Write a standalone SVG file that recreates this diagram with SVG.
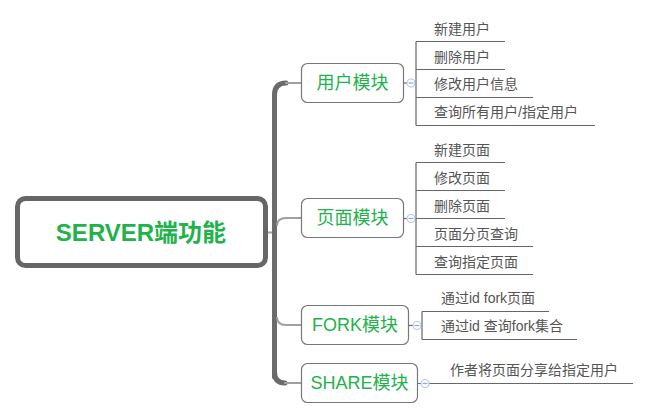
<svg xmlns="http://www.w3.org/2000/svg" width="650" height="420" viewBox="0 0 650 420">
<style>
.trunk{fill:none;stroke:#6b6b6b;stroke-width:5;stroke-linecap:round}
.br{fill:none;stroke:#a0a0a0;stroke-width:2}
.ln{fill:none;stroke:#666;stroke-width:1.2}
.box{fill:#fff;stroke:#777;stroke-width:1.2}
.root{fill:#fff;stroke:#666;stroke-width:5}
.mt{font-family:"Liberation Sans","Noto Sans CJK SC",sans-serif;font-size:18px;fill:#22b24c;text-anchor:middle;dominant-baseline:central}
.rt{font-family:"Liberation Sans","Noto Sans CJK SC",sans-serif;font-size:24px;font-weight:bold;fill:#22b24c;text-anchor:middle;dominant-baseline:central}
.ct{font-family:"Liberation Sans","Noto Sans CJK SC",sans-serif;font-size:14px;fill:#555;dominant-baseline:central}
.col{fill:#fff;stroke:#b3c8ee;stroke-width:1.2}
.minus{stroke:#8fa8e0;stroke-width:1.2}
</style>
<g id="connectors">
  <path class="br" d="M266 232.5 H276"/>
  <path class="trunk" d="M274.5 377 V95 Q274.5 83 286 83"/>
  <path class="trunk" d="M274.5 372 Q274.5 383 285 383"/>
  <path class="br" d="M285 83 H301"/>
  <path class="br" d="M277 226 Q277 218 286 218 H301"/>
  <path class="br" d="M277 317 Q277 325 286 325 H301"/>
  <path class="br" d="M284 383 H301"/>
  <!-- user -->
  <path class="ln" d="M404 83 H416"/>
  <path class="ln" d="M416 41.5 V125.5"/>
  <path class="ln" d="M416 41.5 H505 M416 69.5 H505 M416 97.5 H533 M416 125.5 H595"/>
  <!-- page -->
  <path class="ln" d="M404 218.5 H416"/>
  <path class="ln" d="M416 162.5 V274.5"/>
  <path class="ln" d="M416 162.5 H505 M416 190.5 H505 M416 218.5 H505 M416 246.5 H533 M416 274.5 H533"/>
  <!-- fork -->
  <path class="ln" d="M409 325.5 H422"/>
  <path class="ln" d="M422 311.5 V339.5"/>
  <path class="ln" d="M422 311.5 H549 M422 339.5 H577"/>
  <!-- share -->
  <path class="ln" d="M418 383.5 H633"/>
  <circle class="col" cx="411" cy="83" r="4"/><path class="minus" d="M408.5 83 H413.5"/>
  <circle class="col" cx="411" cy="218.5" r="4"/><path class="minus" d="M408.5 218.5 H413.5"/>
  <circle class="col" cx="417" cy="325.5" r="4"/><path class="minus" d="M414.5 325.5 H419.5"/>
  <circle class="col" cx="425" cy="383.5" r="4"/><path class="minus" d="M422.5 383.5 H427.5"/>
</g>
<g id="root">
  <rect class="root" x="17.5" y="198.5" width="248" height="67" rx="8"/>
  <text class="rt" x="141" y="232">SERVER端功能</text>
</g>
<g id="user">
  <rect class="box" x="301.5" y="63.5" width="102" height="39" rx="6"/>
  <text class="mt" x="352.5" y="83">用户模块</text>
</g>
<g id="user-children">
  <text class="ct" x="434" y="28.5">新建用户</text>
  <text class="ct" x="434" y="56.5">删除用户</text>
  <text class="ct" x="434" y="84">修改用户信息</text>
  <text class="ct" x="434" y="112">查询所有用户/指定用户</text>
</g>
<g id="page">
  <rect class="box" x="301.5" y="198.5" width="102" height="39" rx="6"/>
  <text class="mt" x="352.5" y="218">页面模块</text>
</g>
<g id="page-children">
  <text class="ct" x="434" y="149.5">新建页面</text>
  <text class="ct" x="434" y="177.5">修改页面</text>
  <text class="ct" x="434" y="205.5">删除页面</text>
  <text class="ct" x="434" y="233.5">页面分页查询</text>
  <text class="ct" x="434" y="261.5">查询指定页面</text>
</g>
<g id="fork">
  <rect class="box" x="301.5" y="305.5" width="107" height="39" rx="6"/>
  <text class="mt" x="355" y="325">FORK模块</text>
</g>
<g id="fork-children">
  <text class="ct" x="441" y="298">通过id fork页面</text>
  <text class="ct" x="441" y="326">通过id 查询fork集合</text>
</g>
<g id="share">
  <rect class="box" x="301.5" y="363.5" width="116" height="39" rx="6"/>
  <text class="mt" x="359.5" y="383">SHARE模块</text>
</g>
<g id="share-children">
  <text class="ct" x="450" y="370">作者将页面分享给指定用户</text>
</g>
</svg>
